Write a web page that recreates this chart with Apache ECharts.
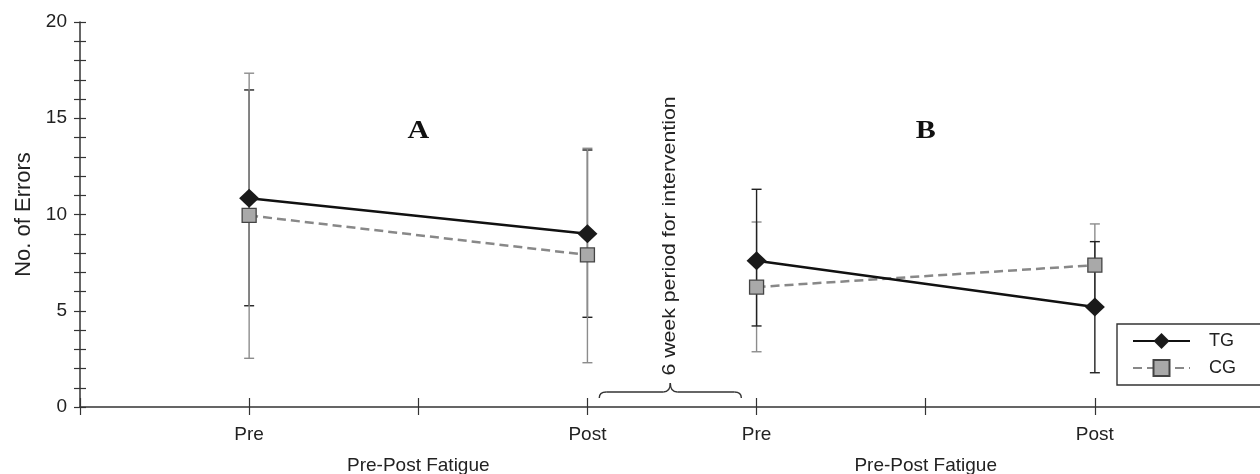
<!DOCTYPE html>
<html><head><meta charset="utf-8">
<script src="https://cdn.jsdelivr.net/npm/echarts@6/dist/echarts.min.js"></script>
<style>html,body{margin:0;padding:0;background:#fff}#c{width:1260px;height:474px}</style>
</head><body><div id="c"></div>
<script>
// ---- data ----
const timeLabels = ['Pre', 'Post', 'Pre', 'Post'];
const timePos = [1, 3, 4, 6];
const phaseTitle = 'Pre-Post Fatigue';
const phaseTitlePos = [2, 5];
const panelLabels = ['A', 'B'];
const panelLabelPos = [[2, 14.3], [5, 14.3]];
const seriesNames = ['TG', 'CG'];
const tgMean = [10.85, 9.0, 7.6, 5.2];
const tgLow  = [5.26, 4.66, 4.21, 1.78];
const tgHigh = [16.47, 13.35, 11.31, 8.59];
const cgMean = [9.95, 7.9, 6.23, 7.37];
const cgLow  = [2.53, 2.30, 2.87, 5.23];
const cgHigh = [17.34, 13.44, 9.61, 9.51];
const yName = 'No. of Errors';
const interventionNote = '6 week period for intervention';

const font = '"Liberation Sans", Arial, sans-serif';
const txt = '#222';
const axisCol = '#333';
const chart = echarts.init(document.getElementById('c'), null, { renderer: 'canvas' });

function lineData(mean) {
  const d = [];
  mean.forEach((v, i) => {
    if (i === 2) d.push([(timePos[1] + timePos[2]) / 2, '-']);
    d.push([timePos[i], v]);
  });
  return d;
}
function errSeries(name, low, high, idxs, color, capColor, z) {
  return {
    type: 'custom', name: name, z: z, silent: true,
    encode: { x: 0, y: [1, 2] },
    data: idxs.map(i => [timePos[i], low[i], high[i]]),
    renderItem: function (params, api) {
      const x = api.value(0);
      const p1 = api.coord([x, api.value(1)]);
      const p2 = api.coord([x, api.value(2)]);
      const w = 5;
      return { type: 'group', children: [
        { type: 'line', shape: { x1: p1[0], y1: p1[1], x2: p2[0], y2: p2[1] }, style: { stroke: color, lineWidth: 1.4 } },
        { type: 'line', shape: { x1: p1[0] - w, y1: p1[1], x2: p1[0] + w, y2: p1[1] }, style: { stroke: capColor, lineWidth: 1.4 } },
        { type: 'line', shape: { x1: p2[0] - w, y1: p2[1], x2: p2[0] + w, y2: p2[1] }, style: { stroke: capColor, lineWidth: 1.4 } }
      ]};
    }
  };
}

const xLabelFmt = function (v) {
  const i = timePos.indexOf(v);
  if (i >= 0) return timeLabels[i];
  if (phaseTitlePos.indexOf(v) >= 0) return '\n' + phaseTitle;
  return '';
};

const option = {
  backgroundColor: '#fff',
  animation: false,
  grid: { left: 80, top: 22, width: 1184, bottom: 67, containLabel: false, outerBoundsMode: 'none' },
  legend: {
    data: seriesNames,
    orient: 'vertical',
    left: 1117, top: 324,
    padding: [8, 60, 8, 15],
    itemWidth: 57, itemHeight: 20, itemGap: 9,
    borderColor: '#333', borderWidth: 1.4,
    textStyle: { fontFamily: font, fontSize: 18, color: txt, padding: [0, 0, 0, 14] }
  },
  xAxis: [{
    type: 'value', min: 0, max: 7, interval: 1, position: 'bottom',
    axisLine: { show: true, lineStyle: { color: axisCol, width: 1.5 } },
    axisTick: { show: true, length: 8, lineStyle: { color: axisCol, width: 1.2 } },
    splitLine: { show: false },
    axisLabel: { formatter: xLabelFmt, fontFamily: font, fontSize: 19, color: txt, lineHeight: 31, margin: 12 }
  }, {
    type: 'value', min: 0, max: 7, interval: 1, position: 'bottom',
    axisLine: { show: false },
    axisTick: { show: true, inside: true, length: 9, lineStyle: { color: axisCol, width: 1.2 } },
    splitLine: { show: false }, axisLabel: { show: false }
  }],
  yAxis: [{
    type: 'value', min: 0, max: 20, interval: 5,
    name: yName, nameLocation: 'middle', nameGap: 43, nameRotate: 90,
    nameTextStyle: { fontFamily: font, fontSize: 22, color: txt },
    axisLine: { show: true, lineStyle: { color: axisCol, width: 1.5 } },
    axisTick: { show: true, length: 6, lineStyle: { color: axisCol, width: 1.2 } },
    minorTick: { show: true, splitNumber: 5, length: 6, lineStyle: { color: axisCol, width: 1.2 } },
    splitLine: { show: false },
    axisLabel: { fontFamily: font, fontSize: 19, color: txt, margin: 13 }
  }, {
    type: 'value', min: 0, max: 20, interval: 5, position: 'left',
    axisLine: { show: false },
    axisTick: { show: true, inside: true, length: 6, lineStyle: { color: axisCol, width: 1.2 } },
    minorTick: { show: true, splitNumber: 5, length: 6, lineStyle: { color: axisCol, width: 1.2 } },
    splitLine: { show: false }, axisLabel: { show: false }
  }],
  series: [
    errSeries('TG SD A', tgLow, tgHigh, [0, 1], '#222', '#222', 1),
    errSeries('CG SD A', cgLow, cgHigh, [0, 1], '#8c8c8c', '#8c8c8c', 2),
    errSeries('CG SD B', cgLow, cgHigh, [2, 3], '#8c8c8c', '#8c8c8c', 1),
    errSeries('TG SD B', tgLow, tgHigh, [2, 3], '#222', '#222', 2),
    {
      name: seriesNames[1], type: 'line', z: 3, data: lineData(cgMean),
      connectNulls: false,
      symbol: 'rect', symbolSize: 14,
      lineStyle: { color: '#888', width: 2.5, type: [9, 5] },
      itemStyle: { color: '#a9a9a9', borderColor: '#444', borderWidth: 1.3 }
    },
    {
      name: seriesNames[0], type: 'line', z: 4, data: lineData(tgMean),
      connectNulls: false,
      symbol: 'diamond', symbolSize: [20, 19],
      lineStyle: { color: '#111', width: 2.5 },
      itemStyle: { color: '#1a1a1a' }
    }
  ]
};
chart.setOption(option);

// annotations placed from data coordinates
const graphics = [];
panelLabels.forEach((t, i) => {
  const p = chart.convertToPixel({ gridIndex: 0 }, panelLabelPos[i]);
  graphics.push({ type: 'text', x: p[0], y: p[1], scaleX: 1.2, style: {
    text: t, fontFamily: '"Liberation Serif", "Times New Roman", serif', fontWeight: 'bold', fontSize: 25,
    fill: '#111', align: 'center', verticalAlign: 'middle' } });
});
const b0 = chart.convertToPixel({ gridIndex: 0 }, [3.07, 0]);
const b1 = chart.convertToPixel({ gridIndex: 0 }, [3.91, 0]);
const yb = b0[1] - 9, yt = yb - 6, ytip = yb - 15, xm = (b0[0] + b1[0]) / 2;
const braceStyle = { stroke: '#333', lineWidth: 1.4, fill: null };
graphics.push({ type: 'group', children: [
  { type: 'bezierCurve', shape: { x1: b0[0], y1: yb, cpx1: b0[0], cpy1: yt, x2: b0[0] + 7, y2: yt }, style: braceStyle },
  { type: 'line', shape: { x1: b0[0] + 7, y1: yt, x2: xm - 7, y2: yt }, style: braceStyle },
  { type: 'bezierCurve', shape: { x1: xm - 7, y1: yt, cpx1: xm, cpy1: yt, x2: xm, y2: ytip }, style: braceStyle },
  { type: 'bezierCurve', shape: { x1: xm, y1: ytip, cpx1: xm, cpy1: yt, x2: xm + 7, y2: yt }, style: braceStyle },
  { type: 'line', shape: { x1: xm + 7, y1: yt, x2: b1[0] - 7, y2: yt }, style: braceStyle },
  { type: 'bezierCurve', shape: { x1: b1[0] - 7, y1: yt, cpx1: b1[0], cpy1: yt, x2: b1[0], y2: yb }, style: braceStyle }
] });
graphics.push({ type: 'text', x: xm - 1, y: 236, rotation: Math.PI / 2, scaleX: 1.12, style: {
  text: interventionNote, fontFamily: font, fontSize: 19, fill: txt, align: 'center', verticalAlign: 'middle' } });
chart.setOption({ graphic: graphics });
</script>
</body></html>
